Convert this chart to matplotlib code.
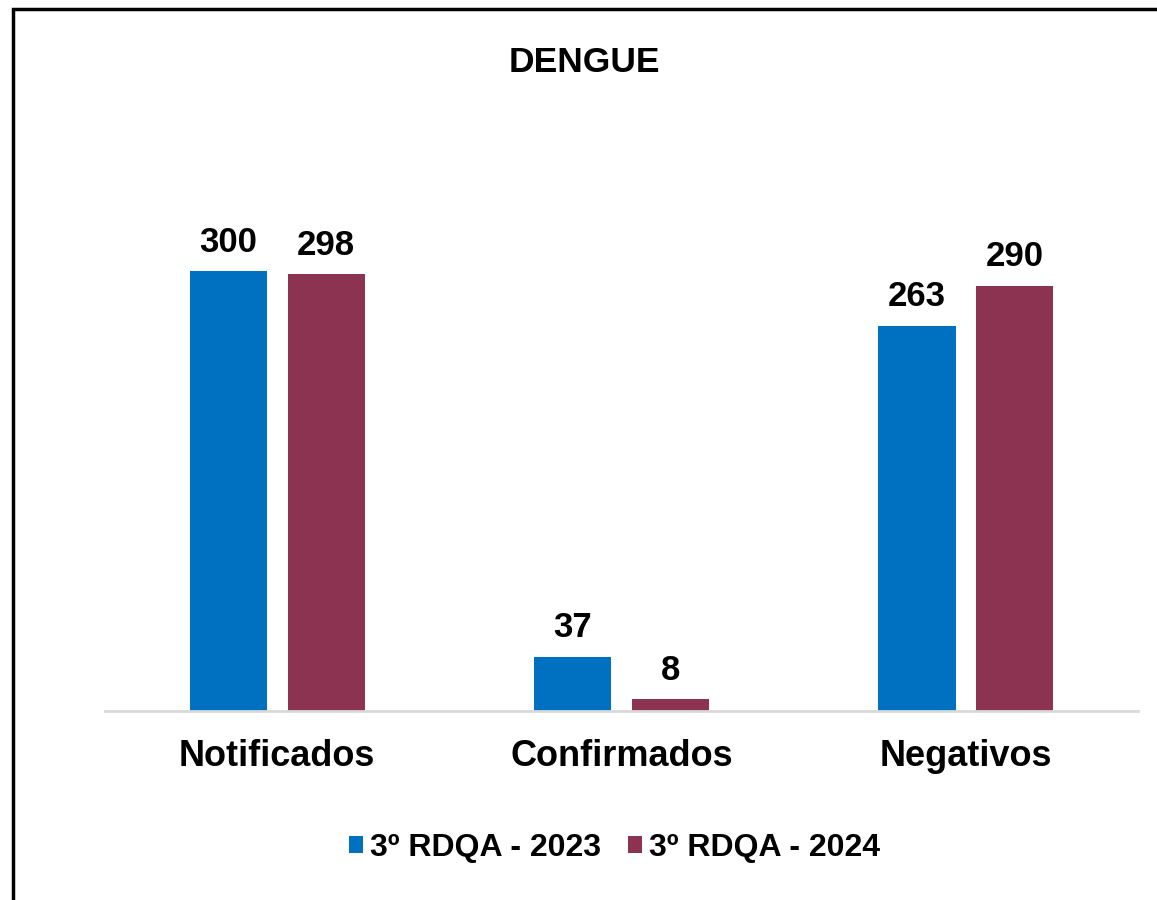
import numpy as np
import matplotlib.pyplot as plt
from matplotlib.patches import Rectangle

# data
categories = ['Notificados', 'Confirmados', 'Negativos']
series_names = ['3º RDQA - 2023', '3º RDQA - 2024']
values_2023 = [300, 37, 263]
values_2024 = [298, 8, 290]
colors = ['#0070C0', '#8B3350']

plt.rcParams['font.family'] = ['Liberation Sans', 'DejaVu Sans']
plt.rcParams['font.weight'] = 'bold'

fig = plt.figure(figsize=(11.57, 9), dpi=100)
ax = fig.add_axes([0.0908, 0.21, 0.8928, 0.57])

x = np.arange(len(categories))
w = 0.224
off = 0.142
b1 = ax.bar(x - off, values_2023, w, color=colors[0], label=series_names[0])
b2 = ax.bar(x + off, values_2024, w, color=colors[1], label=series_names[1])

for bars in (b1, b2):
    for r in bars:
        ax.annotate(str(int(r.get_height())), (r.get_x() + r.get_width() / 2, r.get_height()),
                    xytext=(0, 9), textcoords='offset points', ha='center', va='bottom',
                    fontsize=25, fontweight='bold')

ax.set_xlim(-0.5, 2.5)
ax.set_ylim(0, 350)
ax.set_xticks(x)
ax.set_xticklabels(categories, fontsize=26, fontweight='bold')
ax.tick_params(axis='x', length=0, pad=20)
ax.set_yticks([])
for s in ['left', 'right', 'top']:
    ax.spines[s].set_visible(False)
ax.spines['bottom'].set_color('#d9d9d9')
ax.spines['bottom'].set_linewidth(2)

fig.text(0.505, 0.931, 'DENGUE', ha='center', va='center', fontsize=25.5, fontweight='bold')

fig.legend(handles=[b1, b2], loc='center', bbox_to_anchor=(0.531, 0.058), ncol=2,
           frameon=False, handlelength=0.45, handleheight=0.45,
           handletextpad=0.2, columnspacing=0.85, prop={'weight': 'bold', 'size': 23})

# outer border (only left and top edges visible in the reference)
fig.patches.append(Rectangle((0.0113, -0.1), 1.2, 1.09, transform=fig.transFigure,
                             fill=False, edgecolor='black', linewidth=2.5, clip_on=False))

fig.savefig('out.png', dpi=100)
